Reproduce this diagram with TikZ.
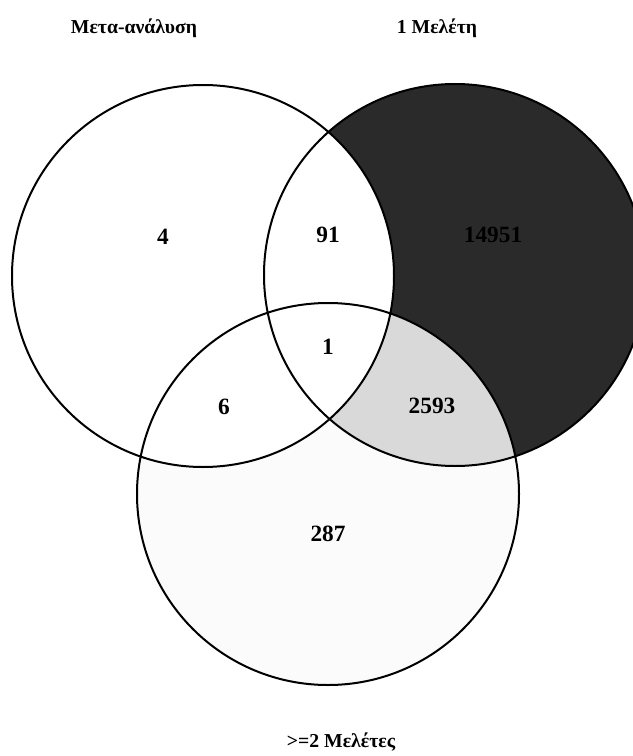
\documentclass[tikz,border=0pt]{standalone}
\usepackage{fontspec}
\setmainfont{Liberation Serif}
\usetikzlibrary{positioning}
\definecolor{dark}{HTML}{2A2A2A}
\definecolor{mid}{HTML}{D9D9D9}
\definecolor{pale}{HTML}{FBFBFB}

\begin{document}
\begin{tikzpicture}[
  x=0.75pt, y=-0.75pt,
  count/.style={font=\fontsize{17.5}{20}\selectfont\bfseries, inner sep=0pt},
  title/.style={font=\fontsize{14.8}{18}\selectfont\bfseries, inner sep=0pt},
  rim/.style={draw=black, line width=1.5pt},
]
\useasboundingbox (0,0) rectangle (632,756);

% set centres
\coordinate (meta) at (203,276);
\coordinate (one)  at (455,275);
\coordinate (two)  at (328,494);

% regions
\fill[pale] (two) circle[radius=143.25pt];
\fill[dark] (one) circle[radius=143.25pt];
\begin{scope}
  \clip (one) circle[radius=143.25pt];
  \fill[mid] (two) circle[radius=143.25pt];
\end{scope}
\fill[white] (meta) circle[radius=143.25pt];

% outlines
\draw[rim] (meta) circle[radius=143.25pt];
\draw[rim] (one)  circle[radius=143.25pt];
\draw[rim] (two)  circle[radius=143.25pt];

% counts
\node[count] (nmeta)   at (163,237) {4};
\node[count] (nmo)     at (328,235) {91};
\node[count] (none)    at (493,235) {14951};
\node[count] (nall)    at (328,347) {1};
\node[count] (nmt)     at (224,407) {6};
\node[count] (not)     at (432,406) {2593};
\node[count] (ntwo)    at (328,534) {287};

% set names
\node[title] (tmeta) at (134,28)  {Μετα-ανάλυση};
\node[title] (tone)  at (437,28)  {1 Μελέτη};
\node[title] (ttwo)  at (341,742) {>=2 Μελέτες};
\end{tikzpicture}
\end{document}
